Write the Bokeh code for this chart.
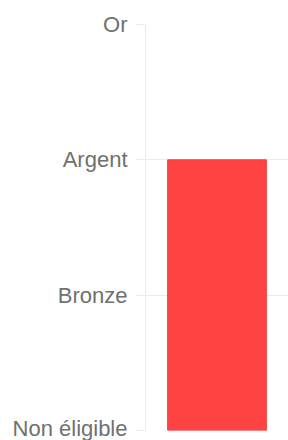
from bokeh.plotting import figure
from bokeh.models import FactorRange, Range1d, FixedTicker
from bokeh.embed import file_html
from bokeh.resources import INLINE

categories = ["Niveau"]
values = [2]
tick_values = [0, 1, 2, 3]
tick_labels = ["Non éligible", "Bronze", "Argent", "Or"]

p = figure(width=279, height=440, x_range=FactorRange(*categories),
           y_range=Range1d(0, 3), output_backend="svg", toolbar_location=None,
           min_border_left=0, min_border_right=0, min_border_top=24, min_border_bottom=10)
p.margin = (0, 0, 0, 9)
p.vbar(x=categories, top=values, width=0.69, bottom=0,
       fill_color="#ff4242", line_color="#f63a3a", line_width=1)

p.xaxis.visible = False
p.xgrid.visible = False
p.outline_line_color = None

p.yaxis.ticker = FixedTicker(ticks=tick_values)
p.yaxis.major_label_overrides = {v: l for v, l in zip(tick_values, tick_labels)}
p.yaxis.minor_tick_line_color = None
p.yaxis.major_tick_out = 9
p.yaxis.major_tick_in = 0
p.yaxis.major_tick_line_color = "#ebebeb"
p.yaxis.axis_line_color = "#ebebeb"
p.yaxis.major_label_standoff = 9
p.yaxis.major_label_text_font = "Liberation Sans"
p.yaxis.major_label_text_font_size = "22px"
p.yaxis.major_label_text_color = "#707070"
p.ygrid.grid_line_color = "#ebebeb"

open("out.html", "w").write(file_html(p, INLINE))
